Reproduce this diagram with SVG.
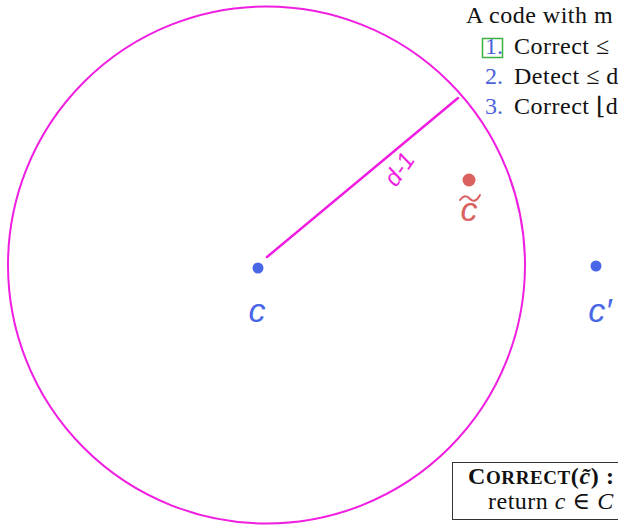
<svg xmlns="http://www.w3.org/2000/svg" width="618" height="526" viewBox="0 0 618 526">
<style>
.tx{font-family:"Liberation Serif","DejaVu Serif",serif;font-size:24px;fill:#111}
.num{fill:#4b63d8}
.hand{font-family:"Liberation Sans","DejaVu Sans",sans-serif;font-style:italic}
</style>
<rect width="618" height="526" fill="#fff"/>
<g id="ball">
<circle cx="266.5" cy="265" r="258.5" fill="none" stroke="#f01ee0" stroke-width="2"/>
</g>
<g id="connectors">
<line x1="267" y1="257" x2="458" y2="98" stroke="#f01ee0" stroke-width="2.5" stroke-linecap="round"/>
<text class="hand" x="0" y="0" font-size="24" fill="#f01ee0" transform="translate(396,188) rotate(-55)">d-1</text>
</g>
<g id="node-c">
<circle cx="258" cy="268" r="5.5" fill="#4a67e8"/>
<text class="hand" x="257" y="322" font-size="34" fill="#4a67e8" text-anchor="middle">c</text>
</g>
<g id="node-ctilde">
<circle cx="469" cy="180" r="6.5" fill="#d9615f"/>
<text class="hand" x="469" y="221" font-size="34" fill="#d9615f" text-anchor="middle">c</text>
<path d="M460 200 q5 -7 10 -1 q5 5 10 -4" fill="none" stroke="#d9615f" stroke-width="2" stroke-linecap="round"/>
</g>
<g id="node-cprime">
<circle cx="596" cy="266" r="5.5" fill="#4a67e8"/>
<text class="hand" x="600" y="322" font-size="34" fill="#4a67e8" text-anchor="middle">c′</text>
</g>
<g id="properties">
<text class="tx" x="466" y="23" letter-spacing="0.5">A code with m</text>
<rect x="482.5" y="38.5" width="20" height="19" fill="none" stroke="#3cb043" stroke-width="1.5"/>
<text class="tx num" x="485" y="54">1.</text>
<text class="tx" x="514" y="54" letter-spacing="0.5">Correct ≤</text>
<text class="tx num" x="485" y="84">2.</text>
<text class="tx" x="514" y="84" letter-spacing="0.5">Detect ≤ d</text>
<text class="tx num" x="485" y="114">3.</text>
<text class="tx" x="514" y="114" letter-spacing="0.5">Correct ⌊d</text>
</g>
<g id="algorithm">
<rect x="452.5" y="462.5" width="180" height="57" fill="#fff" stroke="#333" stroke-width="1"/>
<text class="tx" x="468" y="484" font-weight="bold" letter-spacing="0.6">C<tspan font-size="19">ORRECT</tspan>(<tspan font-style="italic">c̃</tspan>) :</text>
<text class="tx" x="488" y="509" letter-spacing="0.5">return <tspan font-style="italic">c</tspan> ∈ <tspan font-style="italic">C</tspan></text>
</g>
</svg>
